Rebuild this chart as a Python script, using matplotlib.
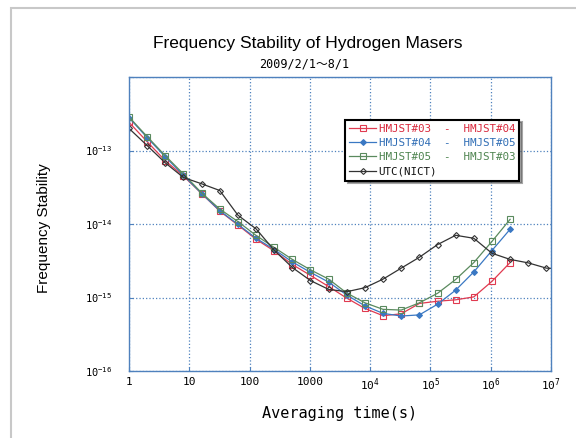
import numpy as np
import matplotlib
matplotlib.use("Agg")
import matplotlib.pyplot as plt
from matplotlib.patches import Rectangle

# averaging times (s)
tau = [1, 2, 4, 8, 16, 32, 64, 128, 256, 512, 1024, 2048, 4096, 8192,
       16384, 32768, 65536, 131072, 262144, 524288, 1048576, 2097152]
tau_utc = tau + [4194304, 8388608, 16777216]

# Allan deviation
hm0304 = [2.42e-13, 1.32e-13, 7.25e-14, 4.5e-14, 2.6e-14, 1.5e-14, 9.7e-15, 6.2e-15,
          4.3e-15, 2.81e-15, 2.0e-15, 1.41e-15, 9.8e-16, 7.1e-16, 5.65e-16, 6.0e-16,
          8.3e-16, 8.9e-16, 9.3e-16, 1.02e-15, 1.66e-15, 2.99e-15]
hm0405 = [2.8e-13, 1.5e-13, 8.2e-14, 4.6e-14, 2.6e-14, 1.52e-14, 9.9e-15, 6.4e-15,
          4.5e-15, 3.05e-15, 2.2e-15, 1.62e-15, 1.08e-15, 7.7e-16, 6.08e-16, 5.6e-16,
          5.8e-16, 8.1e-16, 1.26e-15, 2.23e-15, 4.36e-15, 8.5e-15]
hm0503 = [2.86e-13, 1.55e-13, 8.5e-14, 4.8e-14, 2.65e-14, 1.6e-14, 1.08e-14, 7.0e-15,
          4.8e-15, 3.3e-15, 2.38e-15, 1.78e-15, 1.15e-15, 8.47e-16, 6.9e-16, 6.75e-16,
          8.47e-16, 1.14e-15, 1.76e-15, 2.99e-15, 5.8e-15, 1.16e-14]
utc = [2.0e-13, 1.17e-13, 6.8e-14, 4.3e-14, 3.53e-14, 2.86e-14, 1.32e-14, 8.6e-15,
       4.4e-15, 2.56e-15, 1.7e-15, 1.29e-15, 1.2e-15, 1.36e-15, 1.78e-15, 2.51e-15,
       3.53e-15, 5.25e-15, 7.03e-15, 6.4e-15, 4.0e-15, 3.3e-15, 2.96e-15, 2.51e-15,
       2.45e-15]

labels = ["HMJST#03  -  HMJST#04", "HMJST#04  -  HMJST#05",
          "HMJST#05  -  HMJST#03", "UTC(NICT)"]
colors = ["#e03a50", "#3a78c3", "#5a8a5e", "#333333"]
text_colors = ["#d8283c", "#2f6db5", "#4e8450", "#111111"]

xticks = [1, 10, 100, 1000, 1e4, 1e5, 1e6, 1e7]
xticklabels = ["1", "10", "100", "1000", "$10^4$", "$10^5$", "$10^6$", "$10^7$"]
yticks = [1e-16, 1e-15, 1e-14, 1e-13, 1e-12]
yticklabels = ["$10^{-16}$", "$10^{-15}$", "$10^{-14}$", "$10^{-13}$", ""]

plt.rcParams["mathtext.default"] = "regular"
mono = "DejaVu Sans Mono"
blue = "#4f81bd"

fig = plt.figure(figsize=(5.76, 4.38), dpi=100)
ax = fig.add_axes([0.224, 0.153, 0.7326, 0.671])

series = [hm0304, hm0405, hm0503]
markers = ["s", "D", "s"]
for vals, m, c, lab in zip(series, markers, colors, labels):
    ax.plot(tau, vals, color=c, lw=0.9, marker=m, ms=4 if m == "s" else 3,
            mfc="none" if m == "s" else c, mec=c, mew=0.8, label=lab)
ax.plot(tau_utc, utc, color=colors[3], lw=0.9, marker="D", ms=3, mfc="none",
        mec=colors[3], mew=0.8, label=labels[3])

ax.set_xscale("log")
ax.set_yscale("log")
ax.set_xlim(1, 1e7)
ax.set_ylim(1e-16, 1e-12)
ax.set_xticks(xticks)
ax.set_xticklabels(xticklabels, family=mono, fontsize=8)
ax.set_yticks(yticks)
ax.set_yticklabels(yticklabels, family=mono, fontsize=7.5)
ax.minorticks_off()
ax.tick_params(direction="in", length=3, color=blue)
ax.tick_params(axis="x", pad=4)
ax.tick_params(axis="y", pad=12)
for s in ax.spines.values():
    s.set_color(blue)
    s.set_linewidth(1.0)
ax.grid(True, color=blue, ls=":", lw=0.9)

ax.set_xlabel("Averaging time(s)", family=mono, fontsize=11, labelpad=9)

fig.text(0.077, 0.479, "Frequency Stability", rotation=90, ha="center", va="center",
         family="Liberation Sans", fontsize=11)
fig.text(0.534, 0.9, "Frequency Stability of Hydrogen Masers", ha="center",
         va="center", family="Liberation Sans", fontsize=12.5)
fig.text(0.528, 0.853, "2009/2/1\uff5e8/1", ha="center", va="center",
         family=["DejaVu Sans Mono", "Noto Sans CJK JP"], fontsize=8.5)

leg = ax.legend(loc="upper left", bbox_to_anchor=(0.512, 0.855), prop={"family": mono, "size": 7.8},
                labelcolor=text_colors, frameon=True, fancybox=False, shadow=True,
                handlelength=2.5, handletextpad=0.2, borderpad=0.4, labelspacing=0.38,
                borderaxespad=0)
leg.get_frame().set_edgecolor("black")
leg.get_frame().set_linewidth(1.5)

# light gray outer frame
fig.patches.append(Rectangle((11 / 576, -0.1), 1.2, 1 - 8 / 438 + 0.1, transform=fig.transFigure,
                             fill=False, edgecolor="#c8c8c8", lw=1.5, clip_on=False))

fig.savefig("out.png", dpi=100)
